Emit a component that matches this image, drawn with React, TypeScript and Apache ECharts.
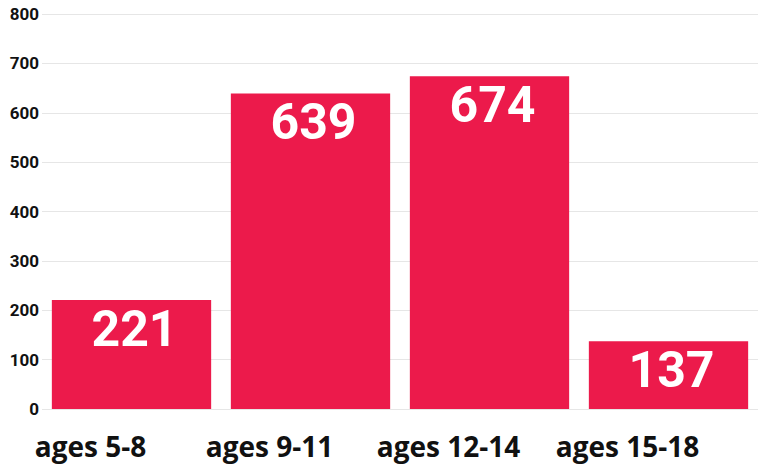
import React, { useEffect, useRef } from "react";
import * as echarts from "echarts";

const categories = ["ages 5-8", "ages 9-11", "ages 12-14", "ages 15-18"];
const values = [221, 639, 674, 137];
const yTicks = [0, 100, 200, 300, 400, 500, 600, 700, 800];

export default function App() {
  const ref = useRef<HTMLDivElement>(null);
  useEffect(() => {
    const chart = echarts.init(ref.current!, null, { renderer: "svg" });
    chart.setOption({
      animation: false,
      backgroundColor: "#ffffff",
      grid: { left: 42, right: 7, top: 14, bottom: 56, containLabel: false },
      xAxis: {
        type: "category",
        data: categories,
        axisLine: { show: false },
        axisTick: { show: false },
        axisLabel: {
          interval: 0,
          hideOverlap: false,
          fontFamily: "Open Sans",
          fontWeight: "bold",
          fontSize: 28,
          color: "#111111",
          margin: 23,
          padding: [0, 82, 0, 0],
        },
      },
      yAxis: {
        type: "value",
        min: yTicks[0],
        max: yTicks[yTicks.length - 1],
        interval: 100,
        axisLine: { show: false },
        axisTick: { show: false },
        splitLine: { lineStyle: { color: "#e6e6e6", width: 1 } },
        axisLabel: {
          fontFamily: "Roboto",
          fontWeight: "bold",
          fontSize: 17,
          color: "#111111",
          margin: 3,
        },
      },
      series: [
        {
          type: "bar",
          data: values,
          barCategoryGap: "11%",
          itemStyle: { color: "#EC1A4B" },
          label: {
            show: true,
            position: "insideTop",
            distance: 4,
            offset: [3, 0],
            fontFamily: "Roboto",
            fontWeight: "bold",
            fontSize: 50,
            color: "#ffffff",
          },
        },
      ],
    });
    return () => chart.dispose();
  }, []);
  return <div ref={ref} style={{ width: 765, height: 465, position: "absolute", left: 0, top: 0 }} />;
}
